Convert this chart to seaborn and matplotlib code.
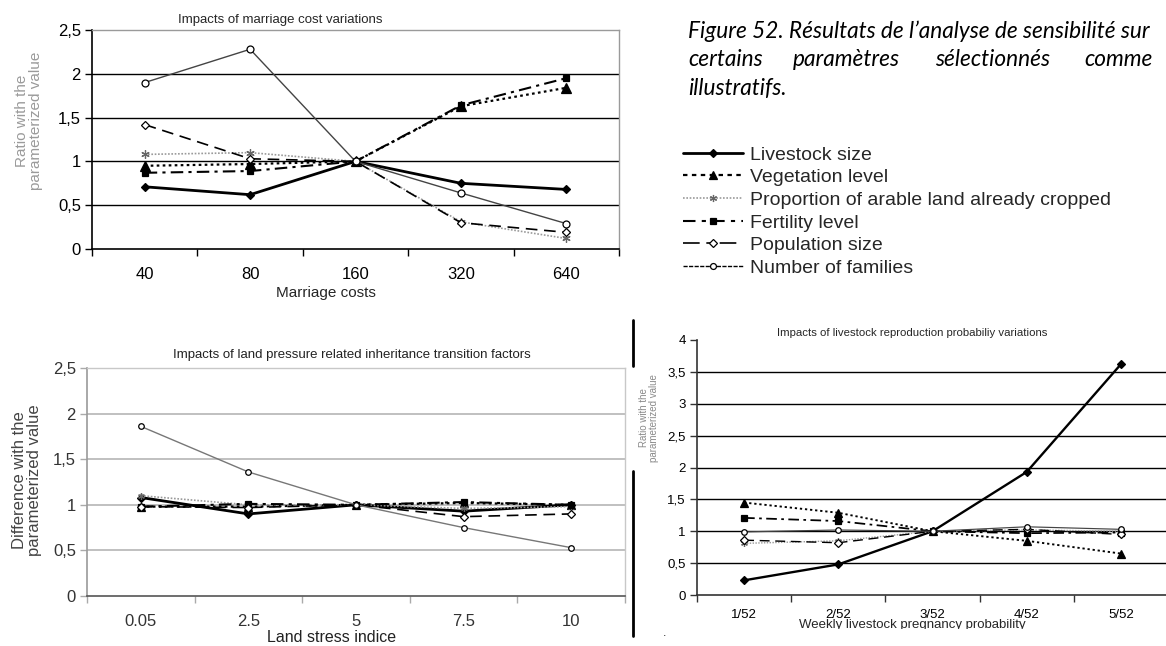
import numpy as np
import matplotlib
matplotlib.use("Agg")
import matplotlib.pyplot as plt
import seaborn as sns
from matplotlib.lines import Line2D
from matplotlib.patches import Rectangle

sns.set_theme(style="white")
plt.rcParams['font.family'] = ['Liberation Sans', 'DejaVu Sans']

W, H = 1166, 646

# ---------------- data ----------------
series_names = ["Livestock size", "Vegetation level",
                "Proportion of arable land already cropped", "Fertility level",
                "Population size", "Number of families"]

marriage_costs = ["40", "80", "160", "320", "640"]
mc_livestock = [0.71, 0.62, 1.00, 0.75, 0.68]
mc_vegetation = [0.95, 0.97, 1.00, 1.63, 1.84]
mc_arable = [1.08, 1.10, 1.00, 0.31, 0.12]
mc_fertility = [0.87, 0.89, 1.00, 1.64, 1.95]
mc_population = [1.42, 1.03, 1.00, 0.30, 0.19]
mc_families = [1.90, 2.28, 1.00, 0.64, 0.29]

land_stress = ["0.05", "2.5", "5", "7.5", "10"]
ls_livestock = [1.08, 0.90, 1.00, 0.93, 1.00]
ls_vegetation = [0.98, 0.98, 1.00, 1.02, 1.00]
ls_arable = [1.10, 1.00, 1.00, 0.96, 0.98]
ls_fertility = [0.98, 1.01, 1.00, 1.03, 1.00]
ls_population = [0.98, 0.97, 1.00, 0.87, 0.90]
ls_families = [1.86, 1.36, 1.00, 0.75, 0.53]

pregnancy_prob = ["1/52", "2/52", "3/52", "4/52", "5/52"]
lr_livestock = [0.23, 0.48, 1.00, 1.93, 3.62]
lr_vegetation = [1.45, 1.29, 1.00, 0.85, 0.65]
lr_arable = [0.81, 0.85, 1.00, 1.02, 1.00]
lr_fertility = [1.21, 1.16, 1.00, 0.97, 0.98]
lr_population = [0.86, 0.82, 1.00, 1.03, 0.95]
lr_families = [0.99, 1.02, 1.00, 1.07, 1.03]

yticks_25 = [0, 0.5, 1, 1.5, 2, 2.5]
yticklabels_25 = ["0", "0,5", "1", "1,5", "2", "2,5"]
yticks_4 = [0, 0.5, 1, 1.5, 2, 2.5, 3, 3.5, 4]
yticklabels_4 = ["0", "0,5", "1", "1,5", "2", "2,5", "3", "3,5", "4"]

# ---------------- styles ----------------
styles = {
    "Livestock size": dict(color="black", linewidth=2.0, linestyle="-", marker="D",
                           markersize=4.5, markerfacecolor="black", markeredgecolor="black"),
    "Vegetation level": dict(color="black", linewidth=1.6, linestyle=(0, (1.2, 1.5)), marker="^",
                             markersize=6.5, markerfacecolor="black", markeredgecolor="black"),
    "Proportion of arable land already cropped": dict(color="#9a9a9a", linewidth=1.2, linestyle=(0, (1, 1)),
                                                      marker=(6, 2, 0), markersize=6,
                                                      markerfacecolor="#666666", markeredgecolor="#666666"),
    "Fertility level": dict(color="black", linewidth=1.5, linestyle=(0, (6, 2.5, 1.5, 2.5)), marker="s",
                            markersize=5, markerfacecolor="black", markeredgecolor="black"),
    "Population size": dict(color="black", linewidth=1.2, linestyle=(0, (7, 4)), marker="D",
                            markersize=4.5, markerfacecolor="white", markeredgecolor="black"),
    "Number of families": dict(color="#444444", linewidth=1.0, linestyle="-", marker="o",
                               markersize=5, markerfacecolor="white", markeredgecolor="black"),
}
legend_ls = {
    "Livestock size": "-",
    "Vegetation level": (0, (2, 2)),
    "Proportion of arable land already cropped": (0, (1, 1)),
    "Fertility level": (0, (6, 3, 2, 3)),
    "Population size": (0, (10, 4, 4, 4)),
    "Number of families": (0, (3, 1)),
}

fig = plt.figure(figsize=(W / 100, H / 100), dpi=100)
fig.patch.set_facecolor("white")


def add_axes_px(left, right, top, bottom):
    return fig.add_axes([left / W, 1 - bottom / H, (right - left) / W, (bottom - top) / H])


def ftext(x, y, s, **kw):
    return fig.text(x / W, 1 - y / H, s, **kw)


def draw_series(ax, cats, data, lw_scale=1.0, ms_scale=1.0):
    xpos = np.arange(len(cats))
    for name, vals in zip(series_names, data):
        st = dict(styles[name])
        st["linewidth"] = st["linewidth"] * lw_scale
        st["markersize"] = st["markersize"] * ms_scale
        sns.lineplot(x=xpos, y=vals, ax=ax, sort=False, legend=False,
                     markeredgewidth=0.9, zorder=3, **st)


def setup_axes(ax, cats, yticks, yticklabels, grid_color, grid_lw, spine_colors,
               tick_fs, label_color, tick_color):
    n = len(cats)
    ax.set_xlim(-0.5, n - 0.5)
    ax.set_ylim(yticks[0], yticks[-1])
    ax.set_xticks(np.arange(n))
    ax.set_xticklabels(cats)
    ax.set_xticks(np.arange(-0.5, n, 1.0), minor=True)
    ax.set_yticks(yticks)
    ax.set_yticklabels(yticklabels)
    ax.tick_params(axis="x", which="major", length=0, pad=13, labelsize=tick_fs, labelcolor=label_color)
    ax.tick_params(axis="x", which="minor", bottom=True, length=5, width=1, color=tick_color, direction="out")
    ax.tick_params(axis="y", which="major", left=True, length=5, width=1, color=tick_color,
                   direction="out", labelsize=tick_fs, labelcolor=label_color, pad=3)
    for yv in yticks[1:-1]:
        ax.axhline(yv, color=grid_color, lw=grid_lw, zorder=1)
    for side, c in spine_colors.items():
        if c is None:
            ax.spines[side].set_visible(False)
        else:
            ax.spines[side].set_visible(True)
            ax.spines[side].set_color(c)
            ax.spines[side].set_linewidth(1.2 if side in ("left", "bottom") else 1.0)
    ax.set_xlabel("")
    ax.set_ylabel("")
    ax.set_facecolor("white")


# ---------------- panel 1: marriage costs ----------------
ax1 = add_axes_px(92, 619, 30, 249)
draw_series(ax1, marriage_costs, [mc_livestock, mc_vegetation, mc_arable,
                                  mc_fertility, mc_population, mc_families])
setup_axes(ax1, marriage_costs, yticks_25, yticklabels_25, "black", 1.0,
           {"left": "black", "bottom": "black", "top": "#9a9a9a", "right": "#9a9a9a"},
           12, "black", "black")
ftext(280, 20, "Impacts of marriage cost variations", fontsize=9.5, ha="center", va="center")
ftext(326, 293, "Marriage costs", fontsize=11, ha="center", va="center")
ftext(29, 121, "Ratio with the\nparameterized value", fontsize=11, color="#9a9a9a",
      rotation=90, ha="center", va="center", linespacing=1.05)

# ---------------- panel 2: land stress ----------------
ax2 = add_axes_px(87, 625, 368, 596)
draw_series(ax2, land_stress, [ls_livestock, ls_vegetation, ls_arable,
                               ls_fertility, ls_population, ls_families], ms_scale=0.8)
for ln in ax2.get_lines():
    if ln.get_color() == "#444444":
        ln.set_color("#777777")
setup_axes(ax2, land_stress, yticks_25, yticklabels_25, "#b5b5b5", 1.2,
           {"left": "#9a9a9a", "bottom": "#555555", "top": "#c8c8c8", "right": "#c8c8c8"},
           12, "#333333", "#aaaaaa")
ftext(352, 355, "Impacts of land pressure related inheritance transition factors",
      fontsize=9.5, ha="center", va="center", color="#222222")
ftext(332, 637, "Land stress indice", fontsize=11.5, ha="center", va="center", color="#222222")
ftext(27, 480, "Difference with the\nparameterized value", fontsize=12, color="#444444",
      rotation=90, ha="center", va="center", linespacing=1.05)

# ---------------- panel 3: livestock reproduction ----------------
ax3 = add_axes_px(697, 1168, 340, 595)
draw_series(ax3, pregnancy_prob, [lr_livestock, lr_vegetation, lr_arable,
                                  lr_fertility, lr_population, lr_families],
            lw_scale=0.85, ms_scale=0.8)
setup_axes(ax3, pregnancy_prob, yticks_4, yticklabels_4, "black", 1.0,
           {"left": "#333333", "bottom": "#333333", "top": None, "right": None},
           9.5, "black", "#333333")
ax3.tick_params(axis="x", which="major", pad=10)
ftext(912, 333, "Impacts of livestock reproduction probabiliy variations", fontsize=8.2,
      ha="center", va="center")
ftext(912, 625, "Weekly livestock pregnancy probability", fontsize=9.5, ha="center", va="center")
fig.add_artist(Rectangle((700 / W, 0), (W - 700) / W, (H - 629) / H, transform=fig.transFigure,
                         facecolor="white", edgecolor="none", zorder=10))
ftext(649, 418, "Ratio with the\nparameterized value", fontsize=7, color="#8a8a8a",
      rotation=90, ha="center", va="center", linespacing=1.05)
ftext(665, 633, ".", fontsize=9, ha="center", va="center")

# vertical separator line (interrupted by y-label box)
fig.add_artist(Line2D([633 / W, 633 / W], [1 - 320 / H, 1 - 366 / H], color="black", lw=2))
fig.add_artist(Line2D([633 / W, 633 / W], [1 - 471 / H, 1 - 636 / H], color="black", lw=2))

# ---------------- caption ----------------
cap_kw = dict(fontsize=16.3, family=["Lato", "DejaVu Sans"], style="italic", va="center", color="black")
ftext(688, 31, "Figure 52. Résultats de l’analyse de sensibilité sur", ha="left", **cap_kw)
ftext(688, 60, "certains", ha="left", **cap_kw)
ftext(793, 60, "paramètres", ha="left", **cap_kw)
ftext(935, 60, "sélectionnés", ha="left", **cap_kw)
ftext(1153, 60, "comme", ha="right", **cap_kw)
ftext(688, 88, "illustratifs.", ha="left", **cap_kw)

# ---------------- legend ----------------
handles = []
for name in series_names:
    st = dict(styles[name])
    st["linestyle"] = legend_ls[name]
    st["markersize"] = st["markersize"] * 0.85
    if name == "Number of families":
        st["color"] = "black"
    handles.append(Line2D([], [], markeredgewidth=0.9, **st))
fig.legend(handles, series_names, loc="upper left", bbox_to_anchor=(683 / W, 1 - 146 / H),
           frameon=False, fontsize=14, handlelength=3.1, handletextpad=0.35,
           labelspacing=0.26, borderpad=0, borderaxespad=0, numpoints=1)

fig.savefig("out.png", dpi=100, facecolor="white")
